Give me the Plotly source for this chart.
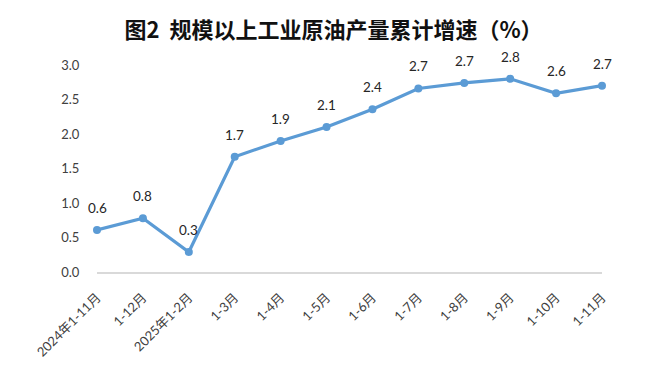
import plotly.graph_objects as go

categories = ["2024年1-11月", "1-12月", "2025年1-2月", "1-3月", "1-4月", "1-5月",
              "1-6月", "1-7月", "1-8月", "1-9月", "1-10月", "1-11月"]
growth = [0.61, 0.78, 0.29, 1.67, 1.90, 2.10, 2.36, 2.66, 2.74, 2.80, 2.59, 2.70]
y_ticks = [0.0, 0.5, 1.0, 1.5, 2.0, 2.5, 3.0]
title_text = "图2  规模以上工业原油产量累计增速（%）"

line_color = "#5B9BD5"
font_fam = "Lato, 'Noto Sans CJK SC', sans-serif"

fig = go.Figure()
fig.add_trace(go.Scatter(
    x=list(range(len(categories))), y=growth, mode="lines+markers",
    line=dict(color=line_color, width=3.2),
    marker=dict(color=line_color, size=8),
    cliponaxis=False,
    hoverinfo="skip", showlegend=False,
))

for i, v in enumerate(growth):
    fig.add_annotation(x=i, y=v, text=f"{v:.1f}", showarrow=False,
                       yshift=22, font=dict(size=13.5, color="#262626", family=font_fam))

fig.update_layout(
    width=667, height=365,
    margin=dict(l=97, r=65, t=65, b=93),
    paper_bgcolor="white", plot_bgcolor="white",
    title=dict(text="<b>" + title_text + "</b>", x=0.5, xanchor="center",
               y=0.918, yanchor="middle",
               font=dict(size=22, color="#111111", family="'Noto Sans CJK SC', sans-serif")),
    xaxis=dict(
        tickmode="array", tickvals=list(range(len(categories))), ticktext=categories,
        range=[0, len(categories) - 1], tickangle=-45, automargin=False,
        showgrid=False, zeroline=False,
        showline=True, linecolor="#D9D9D9", linewidth=1.5,
        ticks="outside", ticklen=11, tickcolor="rgba(0,0,0,0)",
        tickfont=dict(size=13, color="#404040", family=font_fam),
    ),
    yaxis=dict(
        range=[0, 3.0], tickmode="array", tickvals=y_ticks,
        ticktext=[f"{t:.1f}" for t in y_ticks], automargin=False,
        showgrid=False, zeroline=False, showline=False,
        ticks="outside", ticklen=14, tickcolor="rgba(0,0,0,0)",
        tickfont=dict(size=13, color="#404040", family=font_fam),
    ),
)

fig.write_html("out.html")
